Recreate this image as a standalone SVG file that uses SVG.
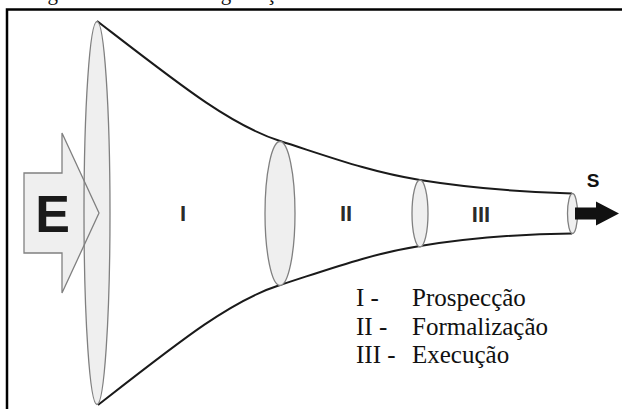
<svg xmlns="http://www.w3.org/2000/svg" width="622" height="409" viewBox="0 0 622 409">
<style>
.ell{fill:#efefef;stroke:#808080;stroke-width:1.3}
.curve{fill:none;stroke:#1a1a1a;stroke-width:2}
.roman{font-family:'Liberation Sans',Arial,sans-serif;font-size:22px;font-weight:bold;fill:#2a2a2a;text-anchor:middle}
</style>
<rect x="0" y="0" width="622" height="409" fill="#fff"/>
<text x="30" y="-0.5" font-family="Liberation Serif, Times New Roman, serif" font-size="21" fill="#111">Figura 3 – Funil da Negociação Online</text>
<rect x="7" y="9.5" width="640" height="420" fill="#fff" stroke="#000" stroke-width="2.5"/>

<g id="connectors">
<path class="curve" d="M97,21 C180,85 230,125 280,141 C330,157 370,172 420,180 C470,188 520,192 572,193.5"/>
<path class="curve" d="M98,405 C180,341 230,301 280,285 C330,269 370,254 420,246 C470,238 520,234 572,233.5"/>
</g>

<g id="entrada">
<path d="M24,173 H62 V133 L99,213 L62,293 V253 H24 Z" fill="#efefef"/>
</g>
<g id="fase1">
<ellipse class="ell" cx="97" cy="213" rx="13" ry="191.5"/>
<text class="roman" x="183" y="221">I</text>
</g>
<g id="entrada-outline">
<path d="M24,173 H62 V133 L99,213 L62,293 V253 H24 Z" fill="none" stroke="#808080" stroke-width="1.3"/>
<text x="52.5" y="232" font-family="Liberation Sans,Arial,sans-serif" font-size="52" font-weight="bold" fill="#1a1a1a" text-anchor="middle">E</text>
</g>
<g id="fase2">
<ellipse class="ell" cx="280" cy="213.5" rx="15" ry="72"/>
<text class="roman" x="346" y="221">II</text>
</g>
<g id="fase3">
<ellipse class="ell" cx="420" cy="213.5" rx="8" ry="33.5"/>
<text class="roman" x="481" y="222">III</text>
</g>
<g id="saida">
<ellipse class="ell" cx="572.5" cy="213.5" rx="5" ry="20"/>
<path d="M575,207.5 H596 V201.5 L619,213.5 L596,225.5 V219.5 H575 Z" fill="#111"/>
<text x="593" y="187" font-family="Liberation Sans,Arial,sans-serif" font-size="19" font-weight="bold" fill="#111" text-anchor="middle">S</text>
</g>
<g id="legenda" font-family="Liberation Serif, Times New Roman, serif" font-size="25" fill="#111">
<text x="356" y="306">I -</text>
<text x="412" y="306">Prospecção</text>
<text x="356" y="334.5">II -</text>
<text x="412" y="334.5">Formalização</text>
<text x="356" y="363">III -</text>
<text x="412" y="363">Execução</text>
</g>
</svg>
